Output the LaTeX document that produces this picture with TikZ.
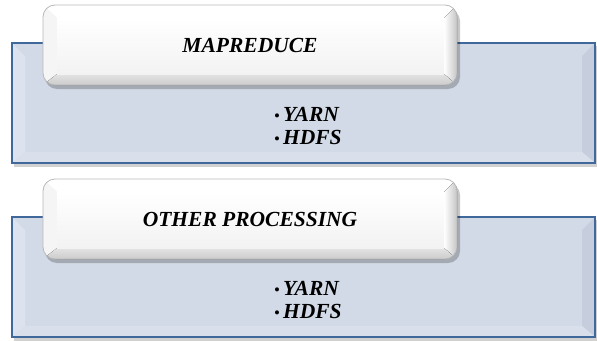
\documentclass[tikz,border=0pt]{standalone}
\usepackage{fontspec}
\setmainfont{Liberation Serif}
\definecolor{boxfill}{HTML}{D3DAE7}
\definecolor{boxlight}{HTML}{DDE3EE}
\definecolor{boxdark}{HTML}{C6CEDD}
\definecolor{boxline}{HTML}{41689B}
\tikzset{
  lbl/.style={font=\fontsize{21.5}{24}\selectfont\bfseries\itshape, inner sep=0pt},
  boxborder/.style={draw=boxline, line width=1.6pt},
  tabborder/.style={draw=gray!55, line width=0.8pt, rounded corners=12pt},
}
\newcommand{\groupbox}[3]{%
\begin{scope}[shift={(0,#1)}]
  % shadow of blue box
  \fill[black, opacity=0.18] (14,46) rectangle (598,167);
  % blue box
  \fill[boxfill] (12,43) rectangle (595,163);
  \fill[boxlight] (12,43) -- (25,56) -- (25,152) -- (12,163) -- cycle;
  \fill[boxdark] (595,43) -- (582,56) -- (582,152) -- (595,163) -- cycle;
  \fill[boxlight!60!boxfill] (12,163) -- (25,152) -- (582,152) -- (595,163) -- cycle;
  \draw[boxborder] (12,43) rectangle (595,163);
  % tab shadow
  \fill[black, opacity=0.22, rounded corners=12pt] (45,9) rectangle (460,89);
  % tab rim, clipped to the rounded outline
  \begin{scope}
    \clip[rounded corners=12pt] (43,5) rectangle (457,85);
    \fill[gray!22] (43,5) rectangle (457,85);
    \fill[white] (43,5) -- (457,5) -- (444,18) -- (57,18) -- cycle;
    \fill[gray!8] (43,5) -- (57,18) -- (57,74) -- (43,85) -- cycle;
    \fill[left color=white, right color=gray!45] (444,18) -- (457,5) -- (457,85) -- (444,74) -- cycle;
    \fill[top color=gray!22, bottom color=gray!40] (43,85) -- (57,74) -- (444,74) -- (457,85) -- cycle;
    \fill[top color=white, bottom color=gray!10] (57,18) rectangle (444,74);
  \end{scope}
  \draw[tabborder] (43,5) rectangle (457,85);
  \node[lbl] (#2title) at (250,45) {#3};
  \node[lbl, anchor=west] (#2yarn) at (274,114) {{\normalfont\fontsize{17}{24}\selectfont\textbullet}\hspace{3pt}YARN};
  \node[lbl, anchor=west] (#2hdfs) at (274,137) {{\normalfont\fontsize{17}{24}\selectfont\textbullet}\hspace{3pt}HDFS};
\end{scope}}
\begin{document}
\begin{tikzpicture}[x=1pt,y=-1pt]
\useasboundingbox (0,0) rectangle (597,340);
\fill[white] (0,0) rectangle (597,340);
\groupbox{0}{a}{MAPREDUCE}
\groupbox{174}{b}{OTHER PROCESSING}
\end{tikzpicture}
\end{document}
